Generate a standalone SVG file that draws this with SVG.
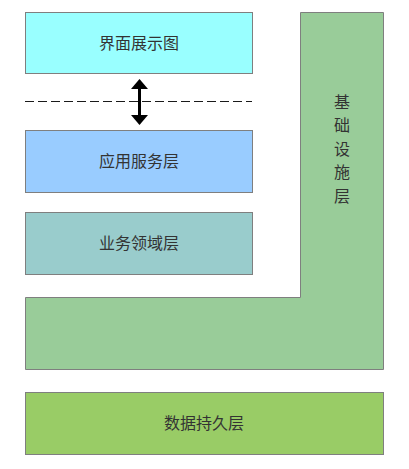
<svg xmlns="http://www.w3.org/2000/svg" width="409" height="469" viewBox="0 0 409 469">
<style>
.box{stroke:#7f7f7f;stroke-width:1}
.t{font-family:"Noto Sans CJK SC","Liberation Sans",sans-serif;font-size:16px;fill:#333333;text-anchor:middle;dominant-baseline:central}
</style>
<rect width="409" height="469" fill="#ffffff"/>
<g id="infra">
<path class="box" d="M300.5,12.5 H383.5 V369.5 H25.5 V297.5 H300.5 Z" fill="#99cc99"/>
<text class="t" x="342" y="100.5">基</text>
<text class="t" x="342" y="124">础</text>
<text class="t" x="342" y="147.5">设</text>
<text class="t" x="342" y="171">施</text>
<text class="t" x="342" y="194.5">层</text>
</g>
<g id="ui">
<rect class="box" x="25.5" y="12.5" width="227" height="61" fill="#99ffff"/>
<text class="t" x="139" y="42">界面展示图</text>
</g>
<g id="app">
<rect class="box" x="25.5" y="130.5" width="227" height="62" fill="#99ccff"/>
<text class="t" x="139" y="160">应用服务层</text>
</g>
<g id="domain">
<rect class="box" x="25.5" y="212.5" width="227" height="62" fill="#99cccc"/>
<text class="t" x="139" y="242">业务领域层</text>
</g>
<g id="data">
<rect class="box" x="25.5" y="392.5" width="358" height="62" fill="#99cc66"/>
<text class="t" x="204" y="422">数据持久层</text>
</g>
<g id="connectors">
<line x1="25" y1="101.5" x2="252" y2="101.5" stroke="#1a1a1a" stroke-width="1" stroke-dasharray="9,4"/>
<line x1="139.5" y1="88" x2="139.5" y2="116" stroke="#000" stroke-width="3"/>
<polygon points="139.5,79 131,89 148,89" fill="#000"/>
<polygon points="139.5,125 131,115 148,115" fill="#000"/>
</g>
</svg>
